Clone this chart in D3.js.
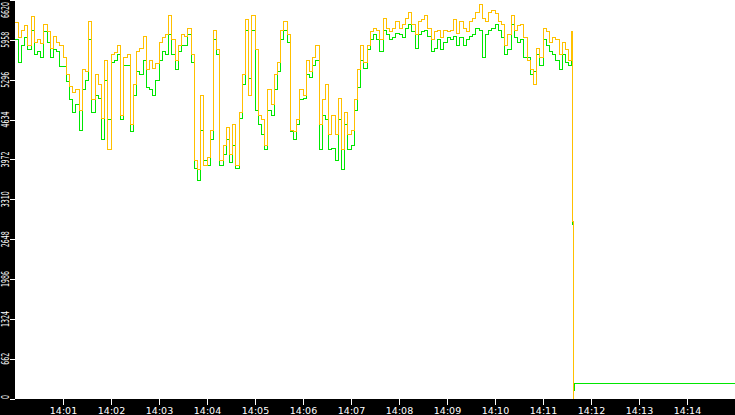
<!DOCTYPE html>
<html><head><meta charset="utf-8">
<script src="https://cdn.jsdelivr.net/npm/d3@7/dist/d3.min.js"></script>
<style>html,body{margin:0;padding:0;background:#000;}svg{display:block;}</style>
</head><body>
<script>
// ---- data ----
const startTime = new Date(2020, 0, 1, 14, 0, 0);
const endTime = new Date(2020, 0, 1, 14, 15, 0);
const sampleSeconds = 4;
const yellowValues = [6240,5990,6120,6190,5870,6350,5920,5960,5890,6210,6090,5820,6020,5920,5860,5660,5380,5190,5090,5130,
4790,5460,5430,6260,4960,5380,5210,4660,5620,4130,5710,5740,5870,4710,5660,5710,4550,5210,5760,5820,
6020,5460,5620,5490,5560,5920,5990,6040,6370,5960,5620,5870,6040,6010,6150,5710,3960,3800,5040,3880,
4000,4460,6120,5790,3960,4210,4500,4050,4550,3880,4760,5380,6290,5040,6370,5790,4710,4630,4210,5130,
4880,5380,5590,6120,6260,6040,4460,4430,4630,5130,5040,5620,5430,5660,5870,4550,4960,5210,4380,4710,
4380,4990,4130,4760,4380,4460,4960,5460,5870,5590,5870,6090,6150,6120,5960,6320,6150,6090,6150,6260,
6150,6210,6320,6420,6220,6040,6260,6290,6370,6150,5960,6090,6120,5990,6120,6090,6120,6290,6070,6260,
6150,6090,6260,6320,6420,6540,6320,6260,6420,6450,6390,6260,6210,5870,6040,6370,6120,6190,6210,5990,
5620,5460,5210,5820,5660,6150,6090,5920,5990,5960,5710,5920,5790,5620,6090];
const greenValues = [5960,5590,5870,5990,5790,6120,5710,5760,5660,6090,5920,5660,5790,5760,5520,5510,5260,4960,4760,4880,
4460,5130,5290,5960,4760,5040,4990,4300,5290,4630,5590,5620,5710,4630,5540,5540,4430,5040,5430,5380,
5620,5160,5130,5040,5290,5620,5760,5710,6040,5710,5460,5760,5870,5870,6040,5590,3830,3630,4460,3960,
3880,4300,5960,5710,3880,4050,4300,3930,4210,3830,4660,5210,6120,5320,6120,4790,4550,4380,4130,4790,
4710,5130,5430,5960,6120,5920,4430,4300,4550,4960,4990,5380,5330,5540,5620,4130,4710,4630,4130,4160,
3960,4630,3800,4550,4130,4210,4790,5160,5620,5490,5790,5960,6040,5960,5760,6120,6040,5960,5990,6060,
6040,5990,6150,6210,6090,5820,6040,6090,6120,6020,5760,5820,5960,5790,5920,5990,5960,6020,5870,5990,
5870,5960,6020,6040,6150,6120,5660,6040,6120,6150,6210,6120,5990,5710,5790,6210,5990,5920,5960,5660,
5660,5380,5430,5710,5540,5960,5870,5760,5710,5620,5460,5710,5590,5540,5960];
// after the drop (seconds from start, value)
const yellowTailSeconds = [697, 698];
const yellowTailValues = [2950, 0];
const greenTailSeconds = [697, 698, 699, 900];
const greenTailValues = [2900, 130, 260, 260];
const yTickValues = [0, 662, 1324, 1986, 2648, 3310, 3972, 4634, 5296, 5958, 6620];
const xTickLabels = ["14:01","14:02","14:03","14:04","14:05","14:06","14:07","14:08","14:09","14:10","14:11","14:12","14:13","14:14"];

// ---- build series ----
const toDate = s => new Date(startTime.getTime() + s * 1000);
function series(vals, tailS, tailV) {
  const pts = vals.map((v, i) => ({t: toDate(i * sampleSeconds), v}));
  tailS.forEach((s, i) => pts.push({t: toDate(s), v: tailV[i]}));
  return pts;
}
const yellow = series(yellowValues, yellowTailSeconds, yellowTailValues);
const green = series(greenValues, greenTailSeconds, greenTailValues);

// ---- layout ----
const W = 735, H = 415, left = 15, plotBottom = 399;
const svg = d3.select("body").append("svg").attr("width", W).attr("height", H);
svg.append("rect").attr("width", W).attr("height", H).attr("fill", "#000");
svg.append("rect").attr("x", left).attr("y", 0).attr("width", W - left).attr("height", plotBottom).attr("fill", "#fff");

const x = d3.scaleTime().domain([startTime, endTime]).range([left, W]);
const y = d3.scaleLinear().domain([0, 6620]).range([plotBottom - 0.3, 0]);

const line = d3.line().x(d => x(d.t)).y(d => y(d.v)).curve(d3.curveStepAfter);
const g = svg.append("g");
g.append("path").datum(green).attr("d", line).attr("fill", "none")
  .attr("stroke", "#00e600").attr("stroke-width", 1).attr("shape-rendering", "crispEdges");
g.append("path").datum(yellow).attr("d", line).attr("fill", "none")
  .attr("stroke", "#ffc000").attr("stroke-width", 1).attr("shape-rendering", "crispEdges");

// ---- x axis ----
const fmt = d3.timeFormat("%H:%M");
const xTicks = x.ticks(d3.timeMinute.every(1)).filter(d => xTickLabels.includes(fmt(d)));
const xAxis = d3.axisBottom(x).tickValues(xTicks).tickFormat(fmt).tickSize(6).tickPadding(2);
const xg = svg.append("g").attr("transform", `translate(0,${plotBottom})`).call(xAxis);
xg.select(".domain").remove();
xg.selectAll(".tick line").attr("stroke", "#fff").attr("shape-rendering", "crispEdges");
xg.selectAll(".tick text").attr("fill", "#fff").attr("font-family", "DejaVu Sans")
  .attr("font-size", "9.5px").attr("dy", "0.75em");

// ---- y axis ----
const yAxis = d3.axisLeft(y).tickValues(yTickValues).tickSize(5).tickFormat("");
const yg = svg.append("g").attr("transform", `translate(${left},0)`).call(yAxis);
yg.select(".domain").remove();
yg.selectAll(".tick line").attr("stroke", "#fff").attr("shape-rendering", "crispEdges");
yTickValues.forEach(v => {
  const label = String(v);
  const len = label.length * 4;
  let cy = y(v);
  cy = Math.max(cy, len / 2 + 2);
  cy = Math.min(cy, plotBottom - 2);
  svg.append("text").attr("transform", `translate(9,${cy}) rotate(-90) scale(0.63,1)`)
    .attr("text-anchor", "middle").attr("fill", "#fff")
    .attr("font-family", "DejaVu Sans").attr("font-size", "10px")
    .text(label);
});
</script>
</body></html>
